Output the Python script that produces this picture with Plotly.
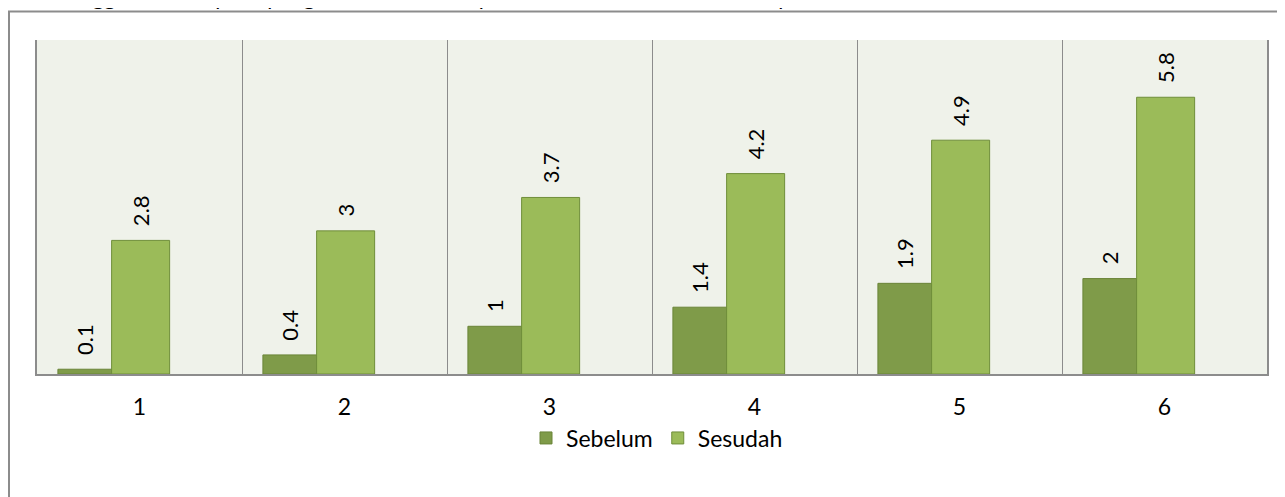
import plotly.graph_objects as go

categories = [1, 2, 3, 4, 5, 6]
tick_labels = ["1", "2", "3", "4", "5", "6"]
sebelum = [0.1, 0.4, 1, 1.4, 1.9, 2]
sesudah = [2.8, 3, 3.7, 4.2, 4.9, 5.8]
series_names = ["Sebelum", "Sesudah"]
title_text = "Tinggi tanaman pada pengamatan ke-1 sampai ke-6, sebelum dan sesudah perlakuan"

FONT = "Lato, 'Open Sans', sans-serif"
# page has an 8px body margin: figure origin sits at page (8, 8)
OFF = 8
W, H = 1285 - OFF, 497 - OFF
ML, MR, MT, MB = 37 - OFF, 18, 40 - OFF, 123
PW, PH = W - ML - MR, H - MT - MB

NB = "\u00a0\u00a0"

fig = go.Figure()
fig.add_trace(go.Bar(
    x=categories, y=sebelum, name=series_names[0],
    marker=dict(color="#7F9B49", line=dict(color="#6A8438", width=1)),
    width=0.262, offset=-0.398,
    text=[str(v) for v in sebelum], texttemplate=NB + "%{text}",
    textposition="outside", textangle=-90,
    textfont=dict(family=FONT, size=22, color="#000000"),
    cliponaxis=False,
))
fig.add_trace(go.Bar(
    x=categories, y=sesudah, name=series_names[1],
    marker=dict(color="#9BBB59", line=dict(color="#6F8E3A", width=1)),
    width=0.283, offset=-0.136,
    text=[str(v) for v in sesudah], texttemplate=NB + "%{text}",
    textposition="outside", textangle=-90,
    textfont=dict(family=FONT, size=22, color="#000000"),
    cliponaxis=False,
))

def px_to_paper_x(px):
    return (px - OFF - ML) / PW

def px_to_paper_y(py):
    return (H - MB - (py - OFF)) / PH

fig.update_layout(
    width=W, height=H,
    margin=dict(l=ML, r=MR, t=MT, b=MB),
    paper_bgcolor="#FFFFFF",
    plot_bgcolor="#EFF2EA",
    barmode="overlay",
    font=dict(family=FONT, size=22, color="#000000"),
    showlegend=True,
    legend=dict(
        orientation="h", x=px_to_paper_x(657), xanchor="center",
        y=px_to_paper_y(438), yanchor="middle",
        font=dict(family=FONT, size=23, color="#000000"),
        itemwidth=30, traceorder="normal",
        bgcolor="rgba(0,0,0,0)",
    ),
    xaxis=dict(
        range=[0.5, 6.5], tickvals=categories, ticktext=tick_labels,
        showgrid=False, zeroline=False,
        showline=True, linecolor="#8C8C8C", linewidth=2,
        ticks="", ticklabelstandoff=11,
        tickfont=dict(family=FONT, size=23, color="#000000"),
        minor=dict(tickvals=[1.5, 2.5, 3.5, 4.5, 5.5], showgrid=True,
                   gridcolor="#8C8C8C", gridwidth=1, ticks=""),
    ),
    yaxis=dict(
        range=[0, 7], showgrid=False, zeroline=False,
        showticklabels=False, ticks="",
        showline=True, mirror=True, linecolor="#8C8C8C", linewidth=1.5,
    ),
    shapes=[dict(
        type="rect", xref="paper", yref="paper",
        x0=px_to_paper_x(9), x1=px_to_paper_x(1310),
        y0=px_to_paper_y(520), y1=px_to_paper_y(11.5),
        line=dict(color="#8C8C8C", width=2), fillcolor="rgba(0,0,0,0)",
        layer="below",
    )],
    annotations=[dict(
        text=title_text, xref="paper", yref="paper",
        x=px_to_paper_x(60), xanchor="left",
        y=px_to_paper_y(-4), yanchor="middle",
        showarrow=False, font=dict(family=FONT, size=22, color="#000000"),
    )],
)

fig.write_html("out.html")
